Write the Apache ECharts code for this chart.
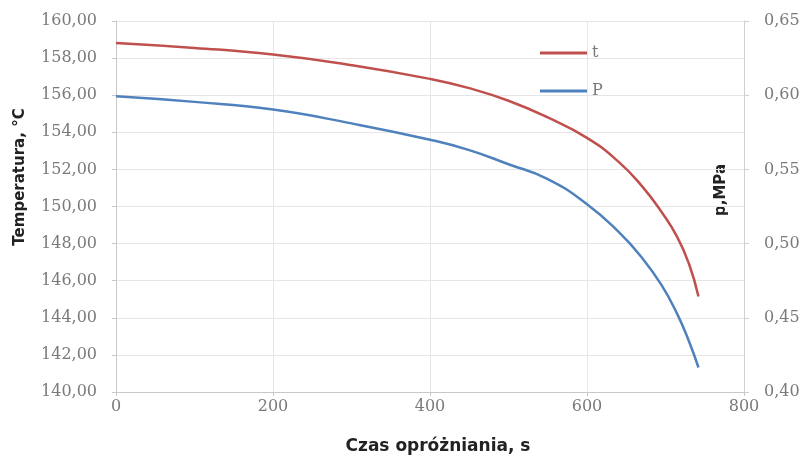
<!DOCTYPE html>
<html lang="pl">
<head>
  <meta charset="UTF-8">
  <title>Czas opróżniania</title>
  <script src="https://cdn.jsdelivr.net/npm/echarts@6/dist/echarts.min.js"></script>
  <style>
    * { padding: 0; margin: 0; }
    #box { width: 806px; height: 465px; background: #fff; }
  </style>
</head>
<body>
  <div id="box"></div>
  <script>
    // czas oprozniania [s]
    var czas = [0, 100, 200, 300, 400, 450, 500, 550, 600, 640, 670, 695, 715, 730, 742]
    // temperatura t [°C]
    var temp = [158.82, 158.55, 158.19, 157.62, 156.88, 156.38, 155.7, 154.8, 153.7, 152.42, 151.1, 149.7, 148.35, 146.9, 145.15]
    // cisnienie p [MPa]
    var cisn = [0.5993, 0.5955, 0.5903, 0.581, 0.570, 0.563, 0.5535, 0.5435, 0.5265, 0.508, 0.4905, 0.472, 0.4525, 0.434, 0.4165]

    var xTicks = [0, 200, 400, 600, 800]

    var labelFont = 'DejaVu Serif'
    var nameFont = 'DejaVu Sans'

    function pary(xs, ys) {
      var out = []
      for (let i = 0; i < xs.length; i++) out.push([xs[i], ys[i]])
      return out
    }

    function przecinek(v) { return v.toFixed(2).replace('.', ',') }

    var mCharts = echarts.init(document.getElementById('box'))
    var option = {
      animation: false,
      grid: { left: 116, right: 62, top: 21, bottom: 73 },
      legend: {
        orient: 'vertical',
        left: 535,
        top: 40,
        icon: 'rect',
        itemWidth: 47,
        itemHeight: 3,
        itemGap: 22,
        textStyle: { fontFamily: labelFont, fontSize: 16, color: '#7a7a7a' },
        data: ['t', 'P']
      },
      xAxis: {
        type: 'value',
        min: xTicks[0],
        max: xTicks[xTicks.length - 1],
        interval: 200,
        axisLine: { lineStyle: { color: '#c8c8c8' } },
        axisTick: { show: true, length: 4, lineStyle: { color: '#c8c8c8' } },
        axisLabel: { margin: 7, fontFamily: labelFont, fontSize: 16, color: '#7a7a7a' },
        splitLine: { show: true, lineStyle: { color: '#e6e6e6' } }
      },
      yAxis: [{
        type: 'value',
        min: 140,
        max: 160,
        interval: 2,
        axisLine: { show: true, lineStyle: { color: '#c8c8c8' } },
        axisTick: { show: true, length: 4, lineStyle: { color: '#c8c8c8' } },
        axisLabel: { margin: 19, fontFamily: labelFont, fontSize: 16, color: '#7a7a7a', formatter: przecinek },
        splitLine: { show: true, lineStyle: { color: '#e6e6e6' } }
      }, {
        type: 'value',
        position: 'right',
        min: 0.40,
        max: 0.65,
        interval: 0.05,
        axisLine: { show: true, lineStyle: { color: '#d0d0d0' } },
        axisTick: { show: true, length: 5, lineStyle: { color: '#d0d0d0' } },
        axisLabel: { margin: 20, fontFamily: labelFont, fontSize: 16, color: '#7a7a7a', formatter: przecinek },
        splitLine: { show: false }
      }],
      graphic: [{
        type: 'text',
        x: 20, y: 177,
        rotation: Math.PI / 2,
        style: {
          text: 'Temperatura, °C', fontFamily: nameFont, fontWeight: 'bold', fontSize: 15,
          fill: '#222', textAlign: 'center', textVerticalAlign: 'middle'
        }
      }, {
        type: 'text',
        x: 721, y: 190,
        rotation: Math.PI / 2,
        style: {
          text: 'p,MPa', fontFamily: nameFont, fontWeight: 'bold', fontSize: 15,
          fill: '#222', textAlign: 'center', textVerticalAlign: 'middle'
        }
      }, {
        type: 'text',
        x: 438, y: 447,
        style: {
          text: 'Czas opróżniania, s', fontFamily: nameFont, fontWeight: 'bold', fontSize: 17,
          fill: '#222', textAlign: 'center', textVerticalAlign: 'middle'
        }
      }],
      series: [{
        name: 't',
        type: 'line',
        yAxisIndex: 0,
        smooth: true,
        showSymbol: false,
        lineStyle: { color: '#c0504d', width: 2.5 },
        itemStyle: { color: '#c0504d' },
        data: pary(czas, temp)
      }, {
        name: 'P',
        type: 'line',
        yAxisIndex: 1,
        smooth: true,
        showSymbol: false,
        lineStyle: { color: '#4f81bd', width: 2.5 },
        itemStyle: { color: '#4f81bd' },
        data: pary(czas, cisn)
      }]
    }
    mCharts.setOption(option)
  </script>
</body>
</html>
